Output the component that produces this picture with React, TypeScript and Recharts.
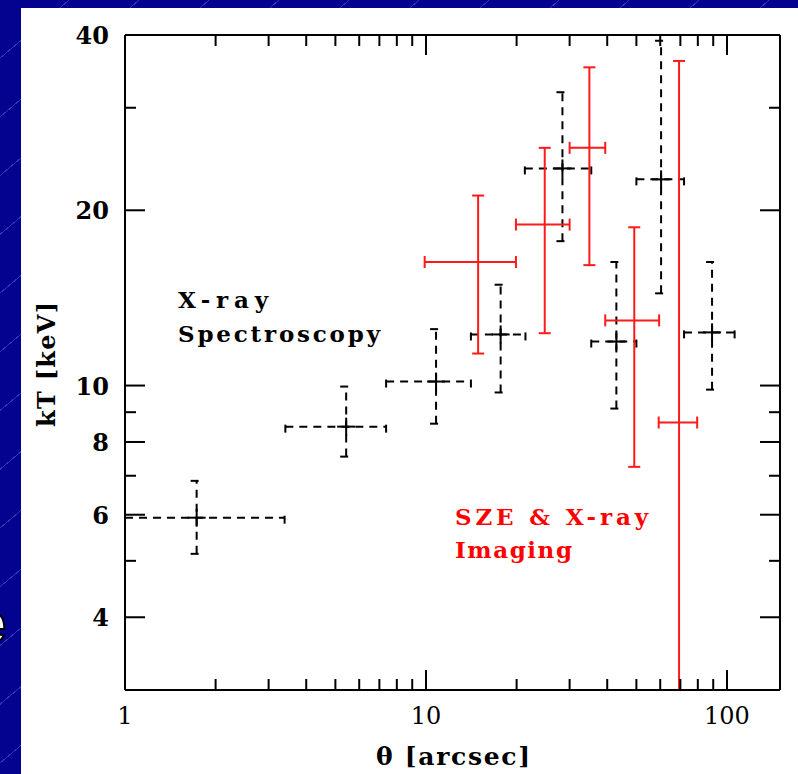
import React from 'react';
import { ComposedChart, Scatter, XAxis, YAxis, ErrorBar, ReferenceLine } from 'recharts';

// X-ray spectroscopy (black, dashed)
const xrayTheta = [1.73, 5.43, 10.8, 17.7, 28.4, 42.9, 60.4, 89.2];
const xrayThetaLo = [1.0, 3.41, 7.37, 14.1, 21.3, 35.4, 50.0, 72.0];
const xrayThetaHi = [3.39, 7.37, 14.1, 21.4, 35.4, 50.0, 72.0, 106];
const xrayKT = [5.93, 8.5, 10.16, 12.24, 23.6, 11.9, 22.6, 12.34];
const xrayKTLo = [5.14, 7.55, 8.6, 9.73, 17.7, 9.13, 14.4, 9.84];
const xrayKTHi = [6.86, 9.96, 12.5, 14.9, 31.9, 16.3, 39.1, 16.3];

// SZE & X-ray imaging (red, solid)
const szeTheta = [14.9, 24.8, 34.9, 49.2, 69.3];
const szeThetaLo = [9.9, 19.9, 30.0, 39.4, 59.3];
const szeThetaHi = [19.9, 30.0, 39.4, 59.5, 79.6];
const szeKT = [16.3, 18.9, 25.6, 12.94, 8.64];
const szeKTLo = [11.35, 12.3, 16.1, 7.25, 3.0];
const szeKTHi = [21.2, 25.6, 35.2, 18.7, 36.1];

const xDomain = [1, 150];
const yDomain = [3, 40];
const xTicks = [1, 2, 3, 4, 5, 6, 7, 8, 9, 10, 20, 30, 40, 50, 60, 70, 80, 90, 100];
const xLabeled = [1, 10, 100];
const yTicks = [4, 5, 6, 7, 8, 9, 10, 20, 30, 40];
const yLabeled = [4, 6, 8, 10, 20, 40];

const build = (t: number[], tl: number[], th: number[], k: number[], kl: number[], kh: number[]) =>
  t.map((v, i) => ({
    x: v,
    y: k[i],
    ex: [v - tl[i], th[i] - v],
    ey: [k[i] - kl[i], kh[i] - k[i]],
  }));

const xrayData = build(xrayTheta, xrayThetaLo, xrayThetaHi, xrayKT, xrayKTLo, xrayKTHi);
const szeData = build(szeTheta, szeThetaLo, szeThetaHi, szeKT, szeKTLo, szeKTHi);

// theta-axis tick marks placed on the bottom and top edges of the frame
const xTickMarks = xTicks.flatMap((v) => [
  { x: v, y: yDomain[0], edge: 'bottom', major: xLabeled.includes(v) },
  { x: v, y: yDomain[1], edge: 'top', major: xLabeled.includes(v) },
]);

const FONT = '"DejaVu Serif", serif';
const MAJOR = 20;
const MINOR = 11;
const W = 798;
const H = 774;
const MARGIN = { top: 35, right: 18, bottom: 34, left: 65 };
const PLOT_RIGHT = W - MARGIN.right;

const BottomLabel = (p: any) => {
  const x = Number(p.x);
  const y = Number(p.y);
  if (!xLabeled.includes(p.payload.value)) return <g />;
  return (
    <text x={x} y={y + 34} textAnchor="middle" fontFamily={FONT} fontSize={24} fill="#000">
      {p.payload.value}
    </text>
  );
};

const XTickShape = (p: any) => {
  const { cx, cy, payload } = p;
  const len = payload.major ? MAJOR : MINOR;
  const y2 = payload.edge === 'bottom' ? cy - len : cy + len;
  return <line x1={cx} x2={cx} y1={cy} y2={y2} stroke="#000" strokeWidth={2} />;
};

const LeftTick = (p: any) => {
  const x = Number(p.x);
  const y = Number(p.y);
  const major = yLabeled.includes(p.payload.value);
  const len = major ? MAJOR : MINOR;
  return (
    <g>
      <rect x={x} y={y - 1} width={len} height={2} fill="#000" />
      <rect x={PLOT_RIGHT - len} y={y - 1} width={len} height={2} fill="#000" />
      {major && (
        <text x={x - 16} y={y + 9} textAnchor="end" fontFamily={FONT} fontSize={24} fontWeight="bold" fill="#000">
          {p.payload.value}
        </text>
      )}
    </g>
  );
};

const Plus = (p: any) => {
  const { cx, cy } = p;
  return (
    <g>
      <line x1={cx - 9} x2={cx + 9} y1={cy} y2={cy} stroke="#000" strokeWidth={2} />
      <line x1={cx} x2={cx} y1={cy - 9} y2={cy + 9} stroke="#000" strokeWidth={2} />
    </g>
  );
};
const Nothing = () => <g />;

const axisLine = { stroke: '#000', strokeWidth: 2 };

export default function App() {
  return (
    <div style={{ position: 'absolute', left: 0, top: 0, width: W, height: H, overflow: 'hidden',
      background: '#03038f' }}>
      <div style={{ position: 'absolute', inset: 0,
        backgroundImage: 'repeating-linear-gradient(140deg, rgba(0,0,0,0) 0px, rgba(0,0,0,0) 44px, rgba(130,150,255,0.35) 44px, rgba(130,150,255,0.35) 45px)' }} />
      <svg width={60} height={H} style={{ position: 'absolute', left: 0, top: 0 }}>
        <text x={-27} y={643} fontFamily='"Liberation Sans", sans-serif' fontWeight="bold" fontSize={60}
          fill="#fff" stroke="#000" strokeWidth={2}>e</text>
      </svg>
      <div style={{ position: 'absolute', left: 21, top: 8, width: 777, height: 766, background: '#fff' }} />
      <div style={{ position: 'absolute', left: 0, top: 0 }}>
        <ComposedChart width={W} height={H} margin={MARGIN}>
          <XAxis dataKey="x" type="number" scale="log" domain={xDomain} allowDataOverflow ticks={xTicks}
            interval={0} tickSize={0} tickMargin={0} tickLine={false} axisLine={axisLine}
            tick={<BottomLabel />} height={50} />
          <YAxis dataKey="y" type="number" scale="log" domain={yDomain} allowDataOverflow ticks={yTicks}
            interval={0} tickSize={0} tickMargin={0} tickLine={false} axisLine={axisLine}
            tick={<LeftTick />} width={60} />
          <ReferenceLine y={yDomain[1]} stroke="#000" strokeWidth={2} />
          <ReferenceLine x={xDomain[1]} stroke="#000" strokeWidth={2} />
          <Scatter data={xTickMarks} fill="#000" shape={<XTickShape />} isAnimationActive={false} />
          <Scatter data={xrayData} fill="#000" shape={<Plus />} isAnimationActive={false}>
            <ErrorBar dataKey="ex" direction="x" width={6} stroke="#000" strokeWidth={2} strokeDasharray="8 6" isAnimationActive={false} />
            <ErrorBar dataKey="ey" direction="y" width={6} stroke="#000" strokeWidth={2} strokeDasharray="8 6" isAnimationActive={false} />
          </Scatter>
          <Scatter data={szeData} fill="#ff0000" shape={<Nothing />} isAnimationActive={false}>
            <ErrorBar dataKey="ex" direction="x" width={6} stroke="#ff1a1a" strokeWidth={2} isAnimationActive={false} />
            <ErrorBar dataKey="ey" direction="y" width={6} stroke="#ff1a1a" strokeWidth={2} isAnimationActive={false} />
          </Scatter>
        </ComposedChart>
      </div>
      <svg width={W} height={H} style={{ position: 'absolute', left: 0, top: 0, pointerEvents: 'none' }}>
        <g fontFamily={FONT} fontSize={23} fontWeight="bold">
          <text x={178} y={308} fill="#000" textLength={90} lengthAdjust="spacing">X-ray</text>
          <text x={178} y={342} fill="#000" textLength={202} lengthAdjust="spacing">Spectroscopy</text>
          <text x={455} y={525} fill="#ff0000" textLength={193} lengthAdjust="spacing">SZE &amp; X-ray</text>
          <text x={455} y={558} fill="#ff0000" textLength={117} lengthAdjust="spacing">Imaging</text>
        </g>
        <text x={376} y={765} fontFamily={FONT} fontSize={25} fontWeight="bold" fill="#000"
          textLength={154} lengthAdjust="spacing">θ [arcsec]</text>
        <text transform="translate(55,427) rotate(-90)" x={0} y={0} fontFamily={FONT} fontSize={24}
          fontWeight="bold" fill="#000" textLength={125} lengthAdjust="spacing">kT [keV]</text>
      </svg>
    </div>
  );
}
